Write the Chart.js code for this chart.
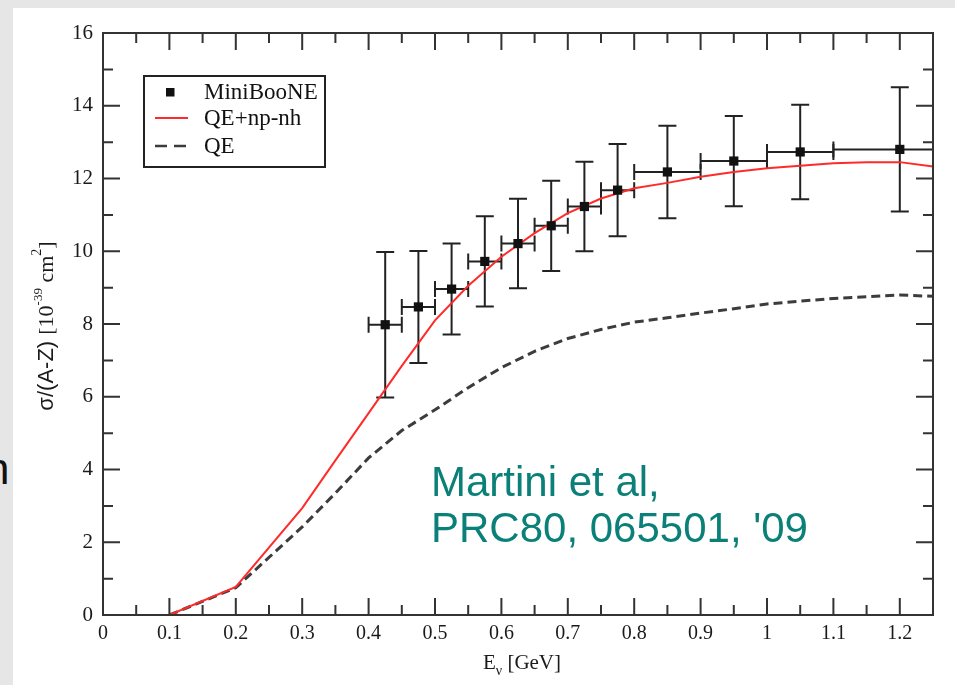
<!DOCTYPE html>
<html>
<head>
<meta charset="utf-8">
<script src="https://cdn.jsdelivr.net/npm/chart.js@4.4.0/dist/chart.umd.min.js"></script>
<style>
  html, body { margin: 0; padding: 0; width: 955px; height: 685px; overflow: hidden; background: #e6e6e6; }
  #frame { position: absolute; left: 13px; top: 8px; width: 942px; height: 677px; background: #fff; }
  #frame canvas { position: absolute; left: 0; top: 0; }
  #cite { position: absolute; left: 431px; top: 459px; font: 42px 'Liberation Sans', Arial, sans-serif; line-height: 46px; color: #0a8078; white-space: nowrap; }
  #cut { position: absolute; left: -15px; top: 443px; font: 44px 'Liberation Sans', Arial, sans-serif; line-height: 52px; color: #111; }
</style>
</head>
<body>
<div id="cut">n</div>
<div id="frame"><canvas id="chart" width="942" height="677"></canvas></div>
<div id="cite">Martini et al,<br>PRC80, 065501, '09</div>
<script>
// MiniBooNE data points (bin centre, value, error, bin edges)
const energy = [0.425, 0.475, 0.525, 0.575, 0.625, 0.675, 0.725, 0.775, 0.85, 0.95, 1.05, 1.2];
const sigma = [7.98, 8.47, 8.96, 9.72, 10.21, 10.70, 11.23, 11.68, 12.18, 12.48, 12.73, 12.80];
const sigmaErr = [2.0, 1.54, 1.25, 1.24, 1.23, 1.24, 1.23, 1.27, 1.27, 1.24, 1.30, 1.71];
const binLow = [0.40, 0.45, 0.50, 0.55, 0.60, 0.65, 0.70, 0.75, 0.80, 0.90, 1.00, 1.10];
const binHigh = [0.45, 0.50, 0.55, 0.60, 0.65, 0.70, 0.75, 0.80, 0.90, 1.00, 1.10, 1.30];

// theory curves
const curveE = [0.1, 0.2, 0.3, 0.35, 0.4, 0.45, 0.5, 0.55, 0.6, 0.65, 0.7, 0.75, 0.8, 0.85, 0.9, 0.95, 1.0, 1.05, 1.1, 1.15, 1.2, 1.25];
const qeNpNh = [0, 0.77, 2.94, 4.25, 5.55, 6.85, 8.1, 9.05, 9.85, 10.5, 11.05, 11.45, 11.73, 11.88, 12.05, 12.18, 12.28, 12.35, 12.42, 12.45, 12.45, 12.33];
const qeOnly = [0, 0.75, 2.42, 3.35, 4.32, 5.07, 5.64, 6.25, 6.8, 7.25, 7.6, 7.85, 8.05, 8.17, 8.3, 8.42, 8.55, 8.63, 8.7, 8.75, 8.8, 8.76];

// axes
const xTicks = [0, 0.1, 0.2, 0.3, 0.4, 0.5, 0.6, 0.7, 0.8, 0.9, 1, 1.1, 1.2];
const xMinor = [0.05, 0.15, 0.25, 0.35, 0.45, 0.55, 0.65, 0.75, 0.85, 0.95, 1.05, 1.15];
const yTicks = [0, 2, 4, 6, 8, 10, 12, 14, 16];
const yMinor = [1, 3, 5, 7, 9, 11, 13, 15];

Chart.defaults.font.family = "'Liberation Serif', 'Times New Roman', serif";

const axisColor = '#333';
const redColor = '#ff2a2a';
const dashColor = '#3c3c3c';

const errorBars = {
    id: 'errorBars',
    beforeDatasetsDraw(chart) {
        const { ctx, chartArea, scales: { x, y } } = chart;
        ctx.save();
        ctx.beginPath();
        ctx.rect(chartArea.left, chartArea.top, chartArea.right - chartArea.left, chartArea.bottom - chartArea.top);
        ctx.clip();
        ctx.strokeStyle = '#222';
        ctx.lineWidth = 2;
        energy.forEach((e, i) => {
            const px = x.getPixelForValue(e);
            const py = y.getPixelForValue(sigma[i]);
            const top = y.getPixelForValue(sigma[i] + sigmaErr[i]);
            const bot = y.getPixelForValue(sigma[i] - sigmaErr[i]);
            const lx = x.getPixelForValue(binLow[i]);
            const rx = x.getPixelForValue(binHigh[i]);
            ctx.beginPath();
            ctx.moveTo(px, top); ctx.lineTo(px, bot);
            ctx.moveTo(px - 9, top); ctx.lineTo(px + 9, top);
            ctx.moveTo(px - 9, bot); ctx.lineTo(px + 9, bot);
            ctx.moveTo(lx, py); ctx.lineTo(rx, py);
            ctx.moveTo(lx, py - 8); ctx.lineTo(lx, py + 8);
            ctx.moveTo(rx, py - 8); ctx.lineTo(rx, py + 8);
            ctx.stroke();
        });
        ctx.restore();
    }
};

const frameAndTitles = {
    id: 'frameAndTitles',
    afterDraw(chart) {
        const { ctx, chartArea: a, scales: { x, y } } = chart;
        ctx.save();
        ctx.strokeStyle = axisColor;
        ctx.lineWidth = 2;
        ctx.strokeRect(a.left, a.top, a.right - a.left, a.bottom - a.top);

        // inward ticks on all four sides
        ctx.beginPath();
        const tickX = (v, len) => {
            const p = x.getPixelForValue(v);
            ctx.moveTo(p, a.bottom); ctx.lineTo(p, a.bottom - len);
            ctx.moveTo(p, a.top); ctx.lineTo(p, a.top + len);
        };
        const tickY = (v, len) => {
            const p = y.getPixelForValue(v);
            ctx.moveTo(a.left, p); ctx.lineTo(a.left + len, p);
            ctx.moveTo(a.right, p); ctx.lineTo(a.right - len, p);
        };
        xTicks.forEach(v => tickX(v, 17));
        xMinor.forEach(v => tickX(v, 10));
        yTicks.forEach(v => tickY(v, 17));
        yMinor.forEach(v => tickY(v, 10));
        ctx.stroke();

        // legend
        const ds = chart.data.datasets;
        ctx.lineWidth = 2;
        ctx.strokeStyle = '#222';
        ctx.strokeRect(131, 68, 181, 91);
        ctx.font = "23px 'Liberation Serif', serif";
        ctx.textBaseline = 'middle';
        ctx.textAlign = 'left';
        ctx.fillStyle = '#111';
        ctx.fillRect(153, 80, 8.5, 8.5);
        ctx.fillText(ds[0].label, 191, 85);
        ctx.strokeStyle = redColor;
        ctx.beginPath(); ctx.moveTo(142, 110); ctx.lineTo(175, 110); ctx.stroke();
        ctx.fillText(ds[1].label, 191, 111);
        ctx.strokeStyle = dashColor;
        ctx.lineWidth = 2.5;
        ctx.setLineDash([12, 7]);
        ctx.beginPath(); ctx.moveTo(142, 138); ctx.lineTo(177, 138); ctx.stroke();
        ctx.setLineDash([]);
        ctx.fillText(ds[2].label, 191, 139);

        // x title: E_nu [GeV]
        ctx.fillStyle = '#1a1a1a';
        ctx.textBaseline = 'alphabetic';
        const xParts = [
            { t: 'E', f: "21px 'Liberation Serif', serif", dy: 0 },
            { t: '\u03bd', f: "14px 'Liberation Serif', serif", dy: 6 },
            { t: ' [GeV]', f: "21px 'Liberation Serif', serif", dy: 0 }
        ];
        drawParts(ctx, xParts, (a.left + a.right) / 2 + 4, 661);

        // y title: sigma/(A-Z) [10^-39 cm^2]
        ctx.translate(33, 318);
        ctx.rotate(-Math.PI / 2);
        const yParts = [
            { t: '\u03c3/(A-Z) ', f: "22px 'Liberation Sans', sans-serif", dy: 0 },
            { t: '[10', f: "22px 'Liberation Serif', serif", dy: 0 },
            { t: '-39', f: "13px 'Liberation Serif', serif", dy: -11 },
            { t: ' cm', f: "22px 'Liberation Serif', serif", dy: 0 },
            { t: '2', f: "14px 'Liberation Serif', serif", dy: -12 },
            { t: ']', f: "22px 'Liberation Serif', serif", dy: 0 }
        ];
        drawParts(ctx, yParts, 0, 7);
        ctx.restore();
    }
};

function drawParts(ctx, parts, cx, baseY) {
    let total = 0;
    parts.forEach(p => { ctx.font = p.f; p.w = ctx.measureText(p.t).width; total += p.w; });
    let px = cx - total / 2;
    ctx.textAlign = 'left';
    parts.forEach(p => {
        ctx.font = p.f;
        ctx.fillText(p.t, px, baseY + p.dy);
        px += p.w;
    });
}

const chart = new Chart(document.getElementById('chart'), {
    type: 'scatter',
    data: {
        datasets: [{
            label: 'MiniBooNE',
            data: energy.map((e, i) => ({ x: e, y: sigma[i] })),
            pointStyle: 'rect',
            pointRadius: 6.5,
            pointBackgroundColor: '#111',
            pointBorderWidth: 0,
            showLine: false
        }, {
            label: 'QE+np-nh',
            data: curveE.map((e, i) => ({ x: e, y: qeNpNh[i] })),
            showLine: true,
            borderColor: redColor,
            borderWidth: 2,
            pointRadius: 0,
            tension: 0
        }, {
            label: 'QE',
            data: curveE.map((e, i) => ({ x: e, y: qeOnly[i] })),
            showLine: true,
            borderColor: dashColor,
            borderWidth: 3,
            borderDash: [9, 5],
            pointRadius: 0,
            tension: 0
        }]
    },
    options: {
        responsive: false,
        animation: false,
        layout: { padding: { top: 25, right: 22, left: 0, bottom: 0 } },
        plugins: {
            legend: { display: false },
            tooltip: { enabled: false }
        },
        scales: {
            x: {
                type: 'linear',
                min: 0,
                max: 1.25,
                afterBuildTicks: s => { s.ticks = xTicks.map(v => ({ value: v })); },
                afterFit: s => { s.height = 70; },
                grid: { display: false, drawTicks: false },
                border: { display: false },
                ticks: {
                    padding: 7,
                    color: '#1a1a1a',
                    font: { size: 20 },
                    callback: v => String(v)
                }
            },
            y: {
                type: 'linear',
                min: 0,
                max: 16,
                afterBuildTicks: s => { s.ticks = yTicks.map(v => ({ value: v })); },
                afterFit: s => { s.width = 90; },
                grid: { display: false, drawTicks: false },
                border: { display: false },
                ticks: {
                    padding: 10,
                    color: '#1a1a1a',
                    font: { size: 21 },
                    callback: v => String(v)
                }
            }
        }
    },
    plugins: [errorBars, frameAndTitles]
});
</script>
</body>
</html>
